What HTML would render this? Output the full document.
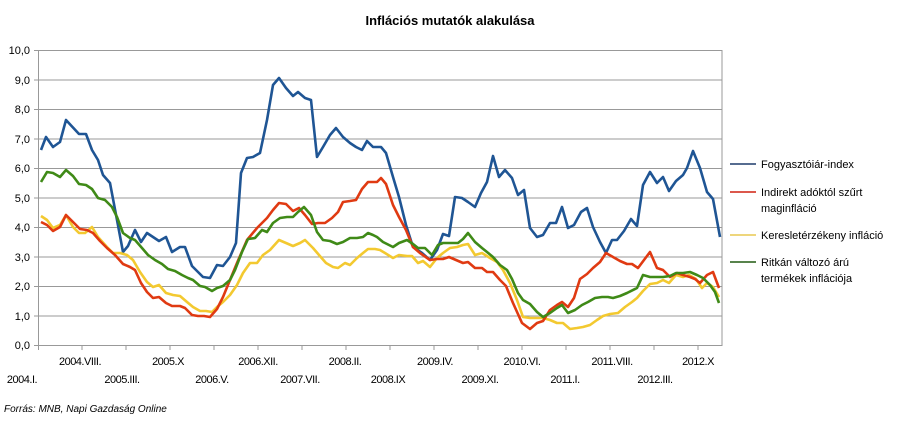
<!DOCTYPE html><html><head><meta charset="utf-8"><style>body{margin:0;background:#fff}svg text{font-family:"Liberation Sans",sans-serif;fill:#000}</style></head><body>
<svg width="900" height="418" xmlns="http://www.w3.org/2000/svg">
<text x="450" y="25" font-size="13" font-weight="bold" text-anchor="middle">Inflációs mutatók alakulása</text>
<g stroke="#999" stroke-width="1">
<line x1="34" y1="50.5" x2="722" y2="50.5"/><line x1="34" y1="80" x2="722" y2="80"/><line x1="34" y1="109.5" x2="722" y2="109.5"/><line x1="34" y1="139" x2="722" y2="139"/><line x1="34" y1="168.5" x2="722" y2="168.5"/><line x1="34" y1="198" x2="722" y2="198"/><line x1="34" y1="227.5" x2="722" y2="227.5"/><line x1="34" y1="257" x2="722" y2="257"/><line x1="34" y1="286.5" x2="722" y2="286.5"/><line x1="34" y1="316" x2="722" y2="316"/><line x1="34" y1="345.5" x2="722" y2="345.5"/>
<line x1="38.5" y1="50" x2="38.5" y2="350"/><line x1="722" y1="50" x2="722" y2="346"/>
<path d="M82 345v5M126 345v5M170 345v5M214 345v5M258 345v5M302 345v5M346 345v5M390 345v5M434 345v5M478 345v5M522 345v5M566 345v5M610 345v5M654 345v5M698 345v5"/>
</g>
<g font-size="11" text-anchor="end">
<text x="30" y="54">10,0</text><text x="30" y="84">9,0</text><text x="30" y="113">8,0</text><text x="30" y="143">7,0</text><text x="30" y="172">6,0</text><text x="30" y="202">5,0</text><text x="30" y="231">4,0</text><text x="30" y="261">3,0</text><text x="30" y="290">2,0</text><text x="30" y="320">1,0</text><text x="30" y="349">0,0</text>
</g>
<g font-size="11" text-anchor="middle" letter-spacing="-0.5">
<text x="80" y="365">2004.VIII.</text><text x="168" y="365">2005.X</text><text x="258" y="365">2006.XII.</text><text x="345" y="365">2008.II.</text><text x="435" y="365">2009.IV.</text><text x="522" y="365">2010.VI.</text><text x="612" y="365">2011.VIII.</text><text x="698" y="365">2012.X</text>
<text x="22" y="383">2004.I.</text><text x="122" y="383">2005.III.</text><text x="212" y="383">2006.V.</text><text x="300" y="383">2007.VII.</text><text x="388" y="383">2008.IX</text><text x="480" y="383">2009.XI.</text><text x="565" y="383">2011.I.</text><text x="655" y="383">2012.III.</text>
</g>
<text x="4" y="412" font-size="10" font-style="italic">Forrás: MNB, Napi Gazdaság Online</text>
<g fill="none" stroke-width="2.6" stroke-linejoin="round">
<polyline stroke="#1f5594" points="41,150 46,137 53,147 60,142 66,120 79,134 86,134 92,150 98,160 103,175 110,183 117,220 123,252 128,246 135,230 141,242 147,233 153,237 159,241 166,237 172,252 180,247 185,247 192,266 198,272 203,277 210,278 217,265 223,266 230,257 236,243 241,173 247,158 253,157 260,153 267,120 273,85 279,78 286,88 293,96 298,92 305,98 311,100 317,157 323,147 330,135 336,128 343,137 350,143 356,147 362,150 367,141 373,147 376,147 381,147 386,153 393,177 399,197 406,225 413,247 422,253 430,260 437,250 443,234 449,236 455,197 462,198 468,202 475,207 481,193 487,182 493,156 499,177 505,170 512,178 518,195 524,190 530,228 537,237 543,235 550,223 556,223 562,207 568,228 574,225 581,212 587,208 593,227 600,242 606,253 612,240 617,240 624,231 631,219 637,226 643,185 650,172 657,183 663,177 669,191 676,181 683,175 687,168 693,151 700,168 707,192 713,199 720,237"/>
<polyline stroke="#f3c930" points="41,216 47,220 53,228 60,225 66,215 73,227 79,233 85,233 92,227 98,237 107,247 113,253 120,253 127,255 133,260 140,272 147,282 153,287 159,285 166,293 173,295 180,296 187,302 193,307 200,311 206,311 212,312 217,307 223,302 230,295 237,285 243,273 250,263 257,263 263,255 270,250 279,240 286,243 293,246 300,243 305,240 313,248 319,255 326,263 333,267 338,268 345,263 350,265 357,258 363,253 368,249 375,249 380,250 385,253 393,258 399,255 407,256 412,256 418,263 423,261 430,267 437,258 443,253 450,248 457,247 463,245 468,244 475,255 482,253 490,258 497,262 503,270 510,283 517,300 523,317 530,318 537,318 543,318 550,320 557,323 563,323 570,329 577,328 583,327 590,325 597,320 603,316 610,314 618,313 625,307 632,302 637,298 643,291 650,284 657,283 663,280 669,283 676,275 683,277 689,275 696,279 702,288 707,283 713,287 719,297"/>
<polyline stroke="#e03a12" points="41,222 47,225 53,231 60,227 66,215 80,229 87,230 93,233 100,241 107,248 115,255 123,264 130,267 135,270 141,283 147,292 153,298 159,297 166,303 172,306 180,306 185,308 192,315 198,316 204,316 210,317 217,309 223,297 230,280 237,263 247,240 257,228 267,218 273,210 279,203 286,204 293,211 299,208 305,215 312,224 318,223 325,223 332,218 338,212 343,202 350,201 356,200 362,189 368,182 373,182 377,182 381,178 386,184 393,205 399,217 406,230 413,247 420,253 430,260 437,259 443,259 449,257 456,260 463,263 468,262 475,268 482,268 487,272 493,272 500,280 506,286 513,303 522,323 530,329 537,323 543,321 550,310 557,305 562,302 568,307 574,298 580,279 587,274 593,268 600,262 606,253 613,257 620,261 627,264 632,264 638,268 644,260 650,252 657,268 663,270 670,277 677,273 683,275 690,277 695,279 700,283 707,275 713,272 719,288"/>
<polyline stroke="#3f8a17" points="41,182 47,172 53,173 60,177 66,170 73,176 79,184 86,185 92,189 98,198 105,200 112,207 117,217 123,233 130,238 135,240 142,248 148,255 155,260 162,264 168,269 175,271 182,275 188,278 193,280 200,286 205,287 212,291 217,288 223,286 230,280 235,270 242,252 248,239 255,238 262,230 267,232 273,223 280,218 287,217 293,217 298,212 304,207 311,215 317,232 323,240 330,241 337,244 343,242 350,238 357,238 363,237 368,233 373,235 377,237 383,242 393,247 399,243 407,240 413,244 418,248 425,248 432,255 438,245 443,243 452,243 458,243 463,239 468,233 475,242 482,248 487,252 493,257 500,265 507,270 512,279 518,293 523,300 530,304 537,312 543,317 550,313 557,308 562,305 568,313 575,310 582,305 588,302 595,298 602,297 608,297 613,298 620,296 627,293 637,288 643,275 650,277 657,277 663,277 670,276 676,273 683,273 690,272 697,275 703,278 710,285 715,292 719,303"/>
</g>
<g stroke-width="1.5">
<line x1="730" y1="164" x2="756" y2="164" stroke="#1f3c6c"/>
<line x1="730" y1="192" x2="756" y2="192" stroke="#d02010"/>
<line x1="730" y1="235" x2="756" y2="235" stroke="#e8c850"/>
<line x1="730" y1="262" x2="756" y2="262" stroke="#205a10"/>
</g>
<g font-size="11">
<text x="761" y="168">Fogyasztóiár-index</text>
<text x="761" y="196">Indirekt adóktól szűrt</text>
<text x="761" y="212">maginfláció</text>
<text x="761" y="239">Keresletérzékeny infláció</text>
<text x="761" y="266">Ritkán változó árú</text>
<text x="761" y="282">termékek inflációja</text>
</g>
</svg>
</body></html>
